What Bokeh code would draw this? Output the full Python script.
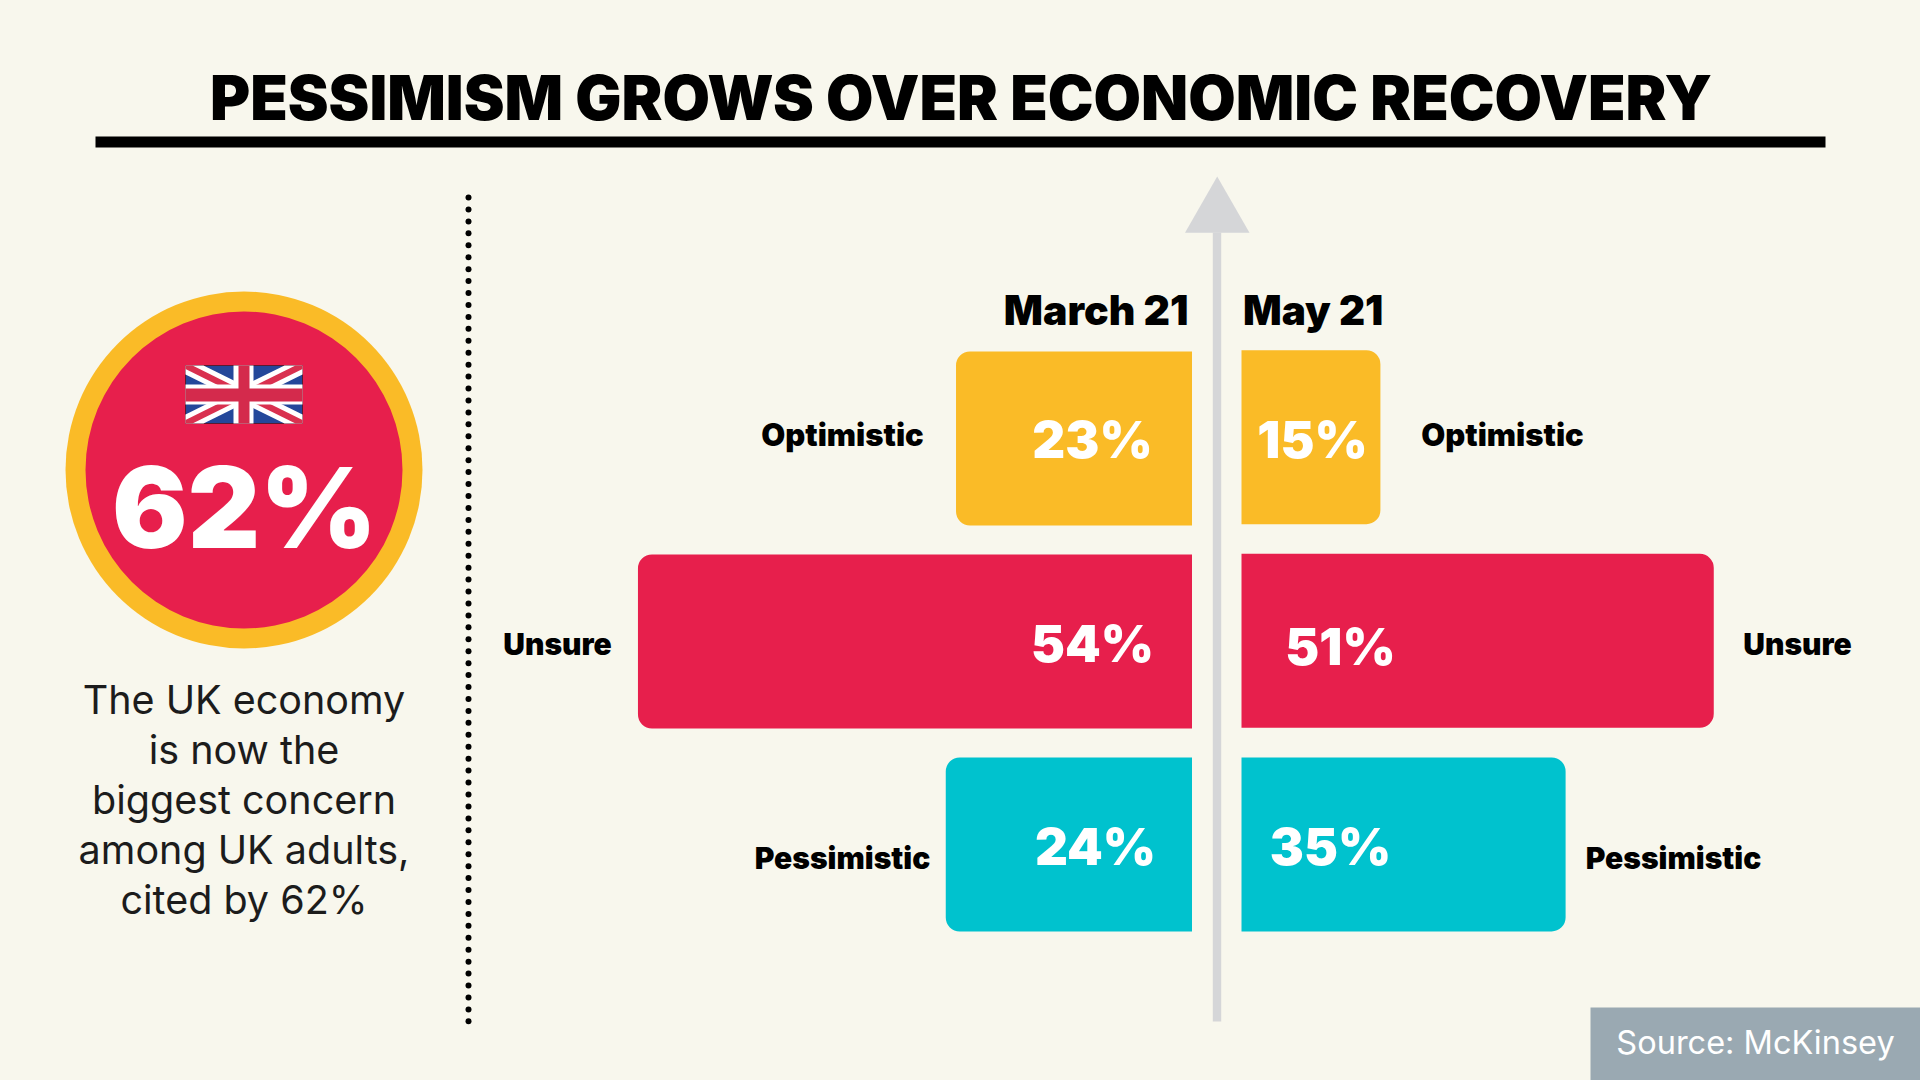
import numpy as np
from bokeh.embed import file_html
from bokeh.models import Range1d
from bokeh.plotting import figure
from bokeh.resources import INLINE
from bokeh.core.properties import value

# ---- data ----
title = "PESSIMISM GROWS OVER ECONOMIC RECOVERY"
periods = ["March 21", "May 21"]
sentiments = ["Optimistic", "Unsure", "Pessimistic"]
march_values = [23, 54, 24]
may_values = [15, 51, 35]
headline = "62%"
body_lines = ["The UK economy", "is now the", "biggest concern", "among UK adults,", "cited by 62%"]
source = "Source: McKinsey"

BG, YEL, RED, TEAL, GREY = "#f8f7ed", "#fabb27", "#e71f4c", "#00c2ce", "#d5d6d8"
row_col = [YEL, RED, TEAL]
BLACK_FONT = value("Inter Black")
REG_FONT = value("Inter")
W, H = 1920, 1080
BASE = 0.35  # the SVG text sits this many em below the y asked for

p = figure(width=W, height=H, x_range=(0, W), y_range=(H, 0), toolbar_location=None,
           output_backend="svg", min_border=0, background_fill_color=BG, border_fill_color=BG,
           outline_line_color=None)
p.axis.visible = False
p.grid.visible = False

# data scales: value 0 sits at the central gap, each side has its own px per percent
M0, MK = 1191.5, 10.26
N0, NK = 1241, 9.26
p.extra_x_ranges["march"] = Range1d(M0 / MK, (M0 - W) / MK)
p.extra_x_ranges["may"] = Range1d(-N0 / NK, (W - N0) / NK)
RM, RN = 203, 203.6
p.extra_y_ranges["row_m"] = Range1d((H - 438) / RM, -438 / RM)
p.extra_y_ranges["row_n"] = Range1d((H - 436.7) / RN, -436.7 / RN)
rows = [0, 1, 2]

def txt(x, y, t, size, color="#000000", align="center", font=BLACK_FONT, style="bold"):
    p.text([x], [y - BASE * size], text=[t], text_font=font, text_font_size=f"{size}px",
           text_font_style=style, text_color=color, text_align=align, text_baseline="alphabetic")

# title
txt(960.5, 119, title, 61.3)
p.quad(left=95, right=1825, top=136, bottom=147, fill_color="#000000", line_color=None)

# dotted separator
dots_y = np.arange(197, 1022, 11.94)
p.scatter(x=np.full(len(dots_y), 468.0), y=dots_y, size=6, marker="circle", fill_color="#000000", line_color=None)

# badge
p.circle([243.5], [469.5], radius=178.5, fill_color=YEL, line_color=None)
p.circle([243.5], [469.5], radius=158.5, fill_color=RED, line_color=None)

# flag
fx0, fx1, fy0, fy1 = 185, 302, 365, 423
p.quad(left=fx0, right=fx1, top=fy0, bottom=fy1, fill_color="#24479a", line_color="#5a1a30", line_width=1)
for d, e, col in [(18, 9, "#ffffff"), (7, 3.5, "#d9304f")]:
    p.patch([fx0, fx0 + d, fx1, fx1, fx1 - d, fx0], [fy0, fy0, fy1 - e, fy1, fy1, fy0 + e], fill_color=col, line_color=None)
    p.patch([fx1, fx1 - d, fx0, fx0, fx0 + d, fx1], [fy0, fy0, fy1 - e, fy1, fy1, fy0 + e], fill_color=col, line_color=None)
p.quad(left=fx0, right=fx1, top=384, bottom=404, fill_color="#ffffff", line_color=None)
p.quad(left=233, right=253, top=fy0, bottom=fy1, fill_color="#ffffff", line_color=None)
p.quad(left=fx0, right=fx1, top=388, bottom=401, fill_color="#d42a4c", line_color=None)
p.quad(left=238, right=249, top=fy0, bottom=fy1, fill_color="#d42a4c", line_color=None)

txt(244, 546, headline, 112, "#ffffff")
for i, line in enumerate(body_lines):
    txt(243.5, 713 + i * 50, line, 39.5, "#1c1c1c", font=REG_FONT, style="normal")

# arrow
p.quad(left=1212.3, right=1220.7, top=232, bottom=1021, fill_color=GREY, line_color=None)
p.patch([1184.5, 1249, 1216.7], [232.3, 232.3, 176], fill_color=GREY, line_color=None)

# bars
R = 14
for i, r in enumerate(rows):
    p.hbar(y=[r], right=[0], left=[march_values[i]], height=174 / RM, fill_color=row_col[i], line_color=None,
           border_radius=(R, 0, 0, R), x_range_name="march", y_range_name="row_m")
    p.hbar(y=[r], left=[0], right=[may_values[i]], height=174 / RN, fill_color=row_col[i], line_color=None,
           border_radius=(0, R, R, 0), x_range_name="may", y_range_name="row_n")

# period headers
txt(1188, 324, periods[0], 41, align="right")
txt(1242.5, 324, periods[1], 40.5, align="left")

# percent labels
mx = [1092, 1092, 1095]
my = [457, 661, 864]
nx = [1312, 1340, 1330]
ny = [457, 664, 864]
for i in rows:
    txt(mx[i], my[i], f"{march_values[i]}%", 51, "#ffffff")
    txt(nx[i], ny[i], f"{may_values[i]}%", 51, "#ffffff")

# sentiment labels
lx = [842, 557, 842]
rx = [1502, 1797, 1673]
ly = [445, 654, 868]
ls = [31, 30, 30]
for i in rows:
    txt(lx[i], ly[i], sentiments[i], ls[i])
    txt(rx[i], ly[i], sentiments[i], ls[i])

# source
p.quad(left=1590, right=1920, top=1007, bottom=1080, fill_color="#9aa9b2", line_color=None)
txt(1755, 1053, source, 32.5, "#ffffff", font=REG_FONT, style="normal")

html = file_html(p, INLINE)
html = html.replace("<head>", f"<head><style>html,body{{margin:0;padding:0;overflow:hidden;background:{BG}}}</style>", 1)
open("out.html", "w").write(html)
